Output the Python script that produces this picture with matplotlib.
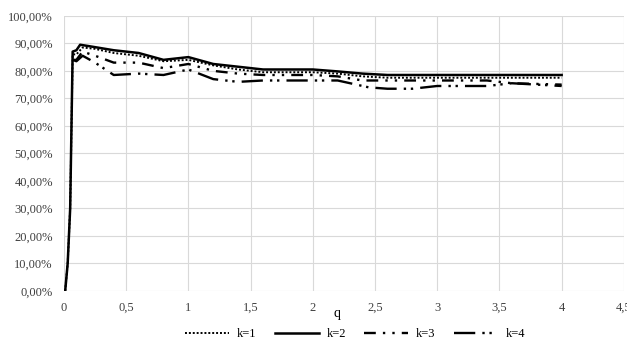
import matplotlib
matplotlib.use("Agg")
from matplotlib import pyplot as plt
from matplotlib.ticker import FuncFormatter

# values (q, share in %)
q1 = [0.01, 0.03, 0.05, 0.07, 0.1, 0.15, 0.25, 0.4, 0.6, 0.8, 1.0, 1.2, 1.4, 1.6, 2.0, 2.2, 2.4, 2.6, 3.0, 3.5, 4.0]
k1 = [0, 10, 30, 86, 86, 88.5, 88, 86.5, 85.5, 83.5, 84, 82, 80.5, 79.5, 79.5, 79, 78, 77.5, 77.5, 77.5, 77.5]

q2 = [0.01, 0.03, 0.05, 0.07, 0.1, 0.13, 0.2, 0.4, 0.6, 0.8, 1.0, 1.2, 1.4, 1.6, 2.0, 2.2, 2.4, 2.6, 3.0, 3.5, 4.0]
k2 = [0, 10, 30, 87, 87.5, 89.5, 89, 87.5, 86.5, 84, 85, 82.5, 81.5, 80.5, 80.5, 79.8, 79, 78.5, 78.5, 78.5, 78.5]

q3 = [0.07, 0.1, 0.15, 0.25, 0.4, 0.6, 0.8, 1.0, 1.2, 1.4, 1.6, 2.0, 2.2, 2.4, 2.6, 3.0, 3.4, 3.6, 4.0]
k3 = [84, 84, 87, 85.5, 83, 83, 81, 82.5, 80, 79, 78.5, 78.5, 78, 76.5, 76.5, 76.5, 76.5, 75.5, 75]

q4 = [0.07, 0.1, 0.15, 0.25, 0.4, 0.6, 0.8, 1.0, 1.2, 1.4, 1.6, 2.0, 2.2, 2.45, 2.6, 2.8, 3.0, 3.4, 3.6, 4.0]
k4 = [84, 83.5, 85.5, 83, 78.5, 79, 78.5, 80.5, 77, 76, 76.5, 76.5, 76.5, 74, 73.5, 73.5, 74.5, 74.5, 75.5, 74.5]

x_ticks = [0, 0.5, 1, 1.5, 2, 2.5, 3, 3.5, 4, 4.5]
y_ticks = [0, 10, 20, 30, 40, 50, 60, 70, 80, 90, 100]

plt.rcParams["font.family"] = ["Liberation Serif", "DejaVu Serif"]
plt.rcParams["font.size"] = 9

fig = plt.figure(figsize=(6.27, 3.45), dpi=100)
ax = fig.add_axes([0.102, 0.157, 0.893, 0.797])

ax.plot(q1, k1, color="black", lw=1.4, linestyle=(0, (1, 1)), label="k=1")
ax.plot(q2, k2, color="black", lw=1.8, linestyle="-", label="k=2")
ax.plot(q3, k3, color="black", lw=1.7, linestyle=(0, (5, 3, 1, 3, 1, 3)), label="k=3")
ax.plot(q4, k4, color="black", lw=1.7, linestyle=(0, (9, 3, 1, 2, 1, 3)), label="k=4")

ax.set_xlim(0, 4.5)
ax.set_ylim(0, 100)
ax.set_xticks(x_ticks)
ax.set_yticks(y_ticks)
ax.xaxis.set_major_formatter(FuncFormatter(lambda v, p: f"{v:g}".replace(".", ",")))
ax.yaxis.set_major_formatter(FuncFormatter(lambda v, p: f"{v:.2f}%".replace(".", ",")))
ax.tick_params(length=0, pad=8, colors="#404040")
ax.grid(True, color="#d9d9d9", lw=0.8)
ax.set_axisbelow(True)
for s in ax.spines.values():
    s.set_visible(False)

ax.set_xlabel("q", fontsize=10)
ax.xaxis.set_label_coords(0.4875, -0.06)
ax.legend(loc="upper center", bbox_to_anchor=(0.52, -0.095), ncol=4, frameon=False,
          handlelength=3.5, columnspacing=1.5, handletextpad=0.6, fontsize=9)

fig.savefig("out.png", dpi=100)
